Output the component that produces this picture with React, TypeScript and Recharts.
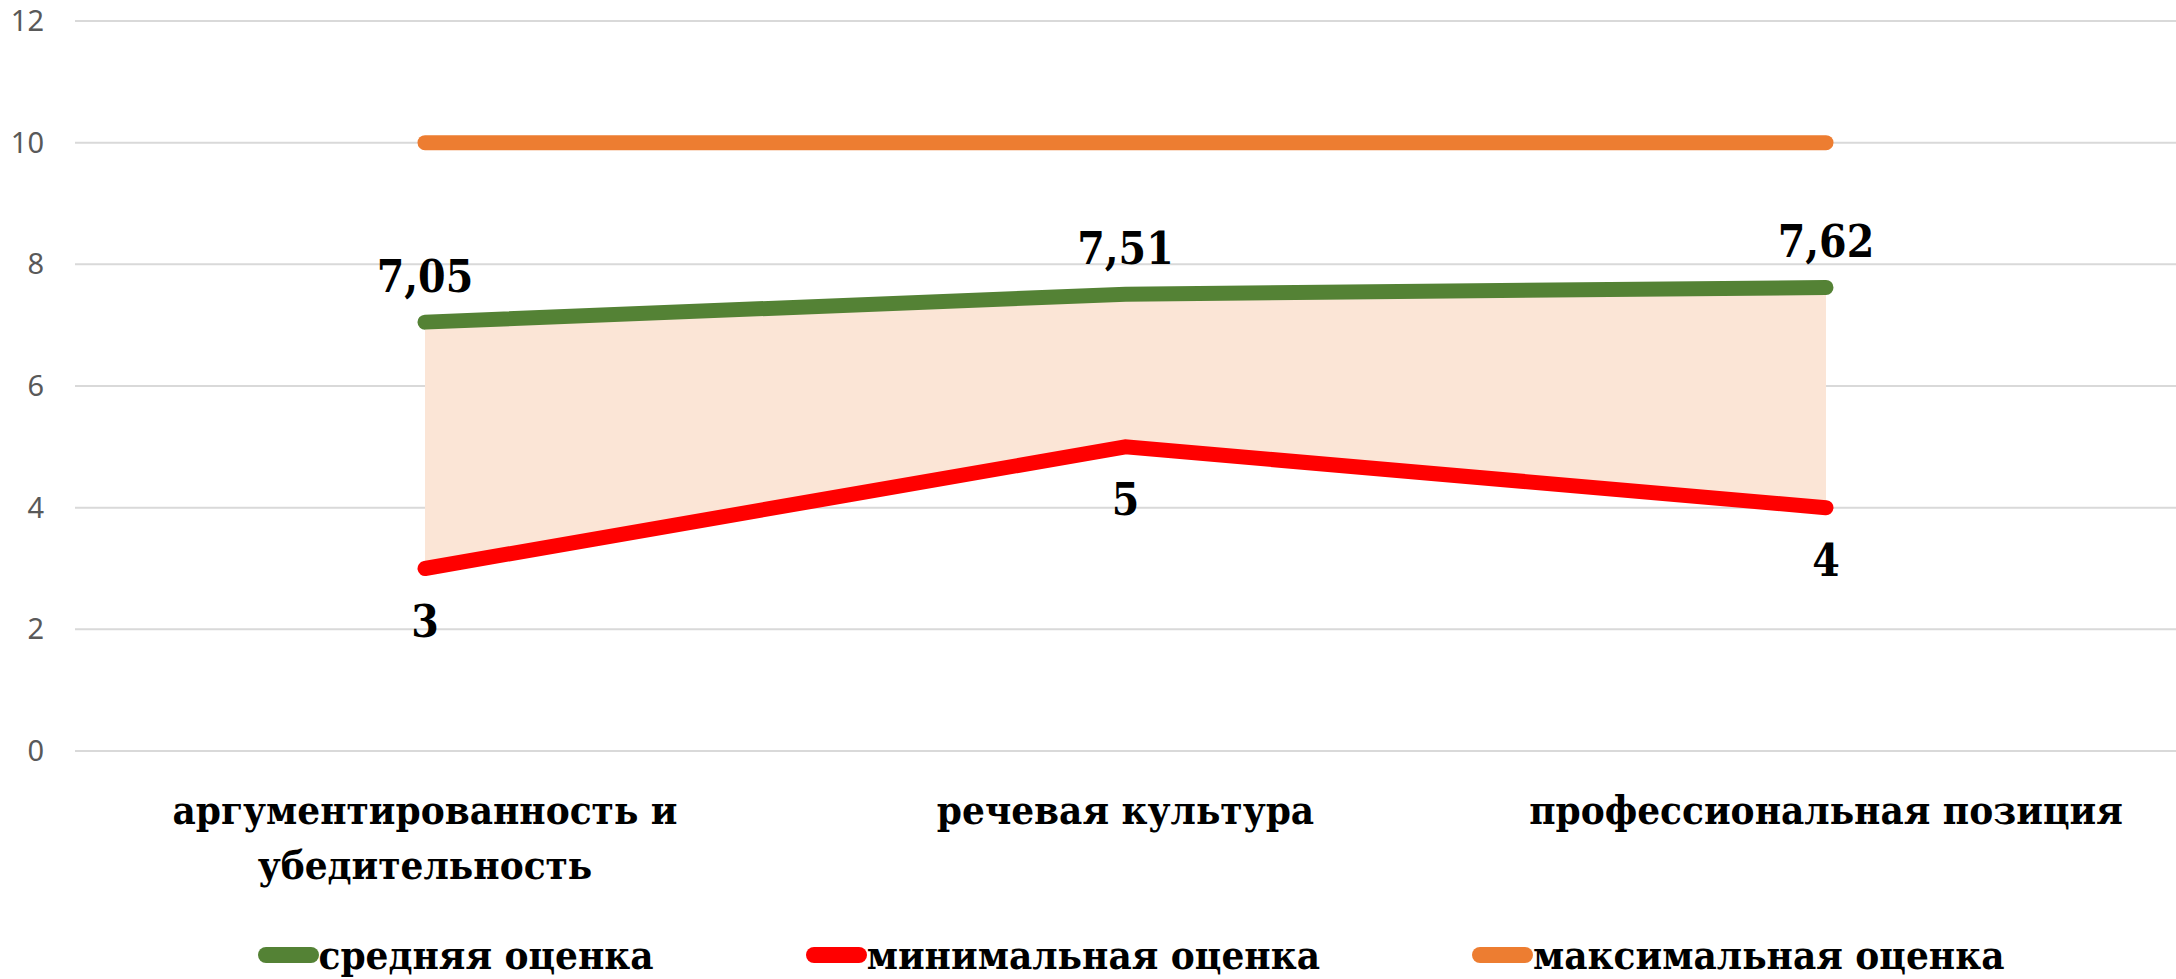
import React from 'react';
import { ComposedChart, Line, Area, XAxis, YAxis, CartesianGrid, Legend, LabelList } from 'recharts';

const categories = ['аргументированность и убедительность', 'речевая культура', 'профессиональная позиция'];
const meanValues = [7.05, 7.51, 7.62];
const minValues = [3, 5, 4];
const maxValues = [10, 10, 10];
const yTicks = [0, 2, 4, 6, 8, 10, 12];
const seriesNames = ['средняя оценка', 'минимальная оценка', 'максимальная оценка'];
const seriesColors = ['#548235', '#FF0000', '#ED7D31'];

const data = categories.map((c, i) => ({
  name: c,
  mean: meanValues[i],
  min: minValues[i],
  max: maxValues[i],
  range: [minValues[i], meanValues[i]],
}));

const SERIF = '"DejaVu Serif Condensed", "DejaVu Serif", serif';
const fmt = (v: number) => String(v).replace('.', ',');

const XTick = (props: any) => {
  const { x, y, payload } = props;
  const label: string = payload.value;
  const lines = label === categories[0] ? ['аргументированность и', 'убедительность'] : [label];
  return (
    <g>
      {lines.map((l, i) => (
        <text key={i} x={x} y={y + 65 + i * 55} textAnchor="middle" fontFamily={SERIF} fontWeight="bold" fontSize={40} fill="#000">
          {l}
        </text>
      ))}
    </g>
  );
};

const YTick = (props: any) => {
  const { y, payload } = props;
  return (
    <text x={44} y={y + 10} textAnchor="end" fontFamily='"Noto Sans", sans-serif' fontSize={29} fill="#595959">
      {payload.value}
    </text>
  );
};

const topLabel = (p: any) => (
  <text x={p.x} y={p.y - 30} textAnchor="middle" fontFamily={SERIF} fontWeight="bold" fontSize={44} fill="#000">
    {fmt(p.value)}
  </text>
);
const bottomLabel = (p: any) => (
  <text x={p.x} y={p.y + 68} textAnchor="middle" fontFamily={SERIF} fontWeight="bold" fontSize={44} fill="#000">
    {fmt(p.value)}
  </text>
);

const LegendContent = () => (
  <div style={{ display: 'flex', justifyContent: 'center', alignItems: 'center', gap: 152, paddingLeft: 86, paddingTop: 22 }}>
    {seriesNames.map((n, i) => (
      <div key={n} style={{ display: 'flex', alignItems: 'center' }}>
        <div style={{ width: 61, height: 16, borderRadius: 8, background: seriesColors[i] }} />
        <span style={{ fontFamily: SERIF, fontWeight: 'bold', fontSize: 40, color: '#000', lineHeight: '44px' }}>{n}</span>
      </div>
    ))}
  </div>
);

export default function App() {
  return (
    <div style={{ position: 'absolute', left: 0, top: 0, width: 2176, height: 979, background: '#fff' }}>
      <ComposedChart width={2176} height={979} data={data} margin={{ top: 21, right: 0, left: 0, bottom: 0 }}>
        <CartesianGrid vertical={false} stroke="#D9D9D9" strokeWidth={2} />
        <XAxis dataKey="name" axisLine={false} tickLine={false} height={160} tick={<XTick />} interval={0} padding={{ left: 350, right: 350 }} />
        <YAxis domain={[0, 12]} ticks={yTicks} width={75} axisLine={false} tickLine={false} tick={<YTick />} />
        <Legend verticalAlign="bottom" height={68} content={<LegendContent />} />
        <Area type="linear" dataKey="range" stroke="none" fill="#FBE5D6" fillOpacity={1} isAnimationActive={false} />
        <Line type="linear" dataKey="max" stroke={seriesColors[2]} strokeWidth={15} strokeLinecap="round" dot={false} isAnimationActive={false} />
        <Line type="linear" dataKey="min" stroke={seriesColors[1]} strokeWidth={15} strokeLinecap="round" dot={false} isAnimationActive={false}>
          <LabelList dataKey="min" content={bottomLabel} />
        </Line>
        <Line type="linear" dataKey="mean" stroke={seriesColors[0]} strokeWidth={15} strokeLinecap="round" dot={false} isAnimationActive={false}>
          <LabelList dataKey="mean" content={topLabel} />
        </Line>
      </ComposedChart>
    </div>
  );
}
